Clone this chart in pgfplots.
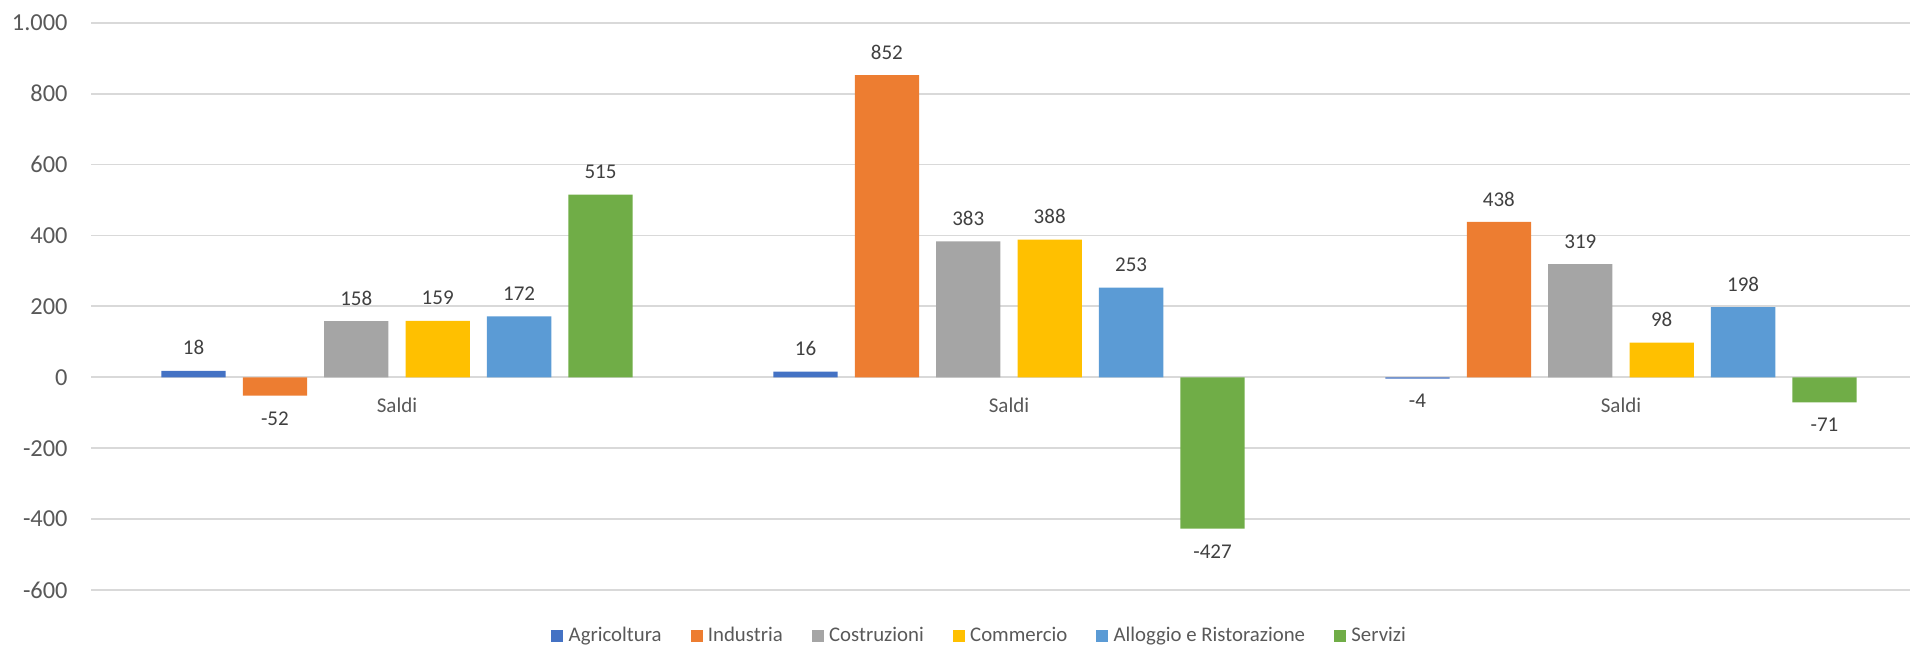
\documentclass[border=0pt]{standalone}
\usepackage{fontspec}
\setmainfont{Carlito}
\usepackage{pgfplots}
\usepackage{pgfplotstable}
\pgfplotsset{compat=1.18}

\definecolor{cAgr}{HTML}{4472C4}
\definecolor{cInd}{HTML}{ED7D31}
\definecolor{cCos}{HTML}{A5A5A5}
\definecolor{cCom}{HTML}{FFC000}
\definecolor{cAll}{HTML}{5B9BD5}
\definecolor{cSer}{HTML}{70AD47}
\definecolor{gridc}{HTML}{D9D9D9}
\definecolor{tickc}{HTML}{595959}
\definecolor{labc}{HTML}{404040}

% saldi per settore, tre gruppi
\pgfplotstableread{
g agr ind cos com all ser
1 18  -52 158 159 172 515
2 16  852 383 388 253 -427
3 -4  438 319 98  198 -71
}\saldi

\begin{document}
\begin{tikzpicture}
\begin{axis}[
  at={(0,0)}, anchor=south west,
  x=306pt, y=0.17728pt,
  xmin=0.5, xmax=3.4722, ymin=-600, ymax=1000,
  enlargelimits=false,
  ybar=8.55pt, bar width=32.15pt,
  axis x line=middle, axis y line=left,
  x axis line style={-, draw=gridc, line width=0.9pt},
  y axis line style={draw=none},
  major tick length=0pt,
  tick style={draw=none},
  xtick={1,2,3}, xticklabels={Saldi,Saldi,Saldi},
  ytick={-600,-400,...,1000},
  ymajorgrids, grid style={draw=gridc, line width=0.9pt},
  /pgf/number format/assume math mode=true,
  /pgf/number format/1000 sep={.},
  yticklabel style={font=\fontsize{12.2}{14}\selectfont, text=tickc, inner sep=0pt, xshift=-11.5pt},
  xticklabel style={font=\fontsize{10.5}{12}\selectfont, text=tickc, inner sep=0pt, anchor=center, yshift=-14pt},
  nodes near coords, nodes near coords align=vertical,
  every node near coord/.append style={font=\fontsize{10.5}{12}\selectfont, text=labc, inner xsep=0pt, inner ysep=7.7pt},
  legend columns=-1,
  legend style={draw=none, fill=none, at={(0.488,0)}, anchor=center, yshift=-23pt,
    font=\fontsize{10.4}{12}\selectfont, text=tickc, nodes={inner sep=0pt},
    /tikz/every even column/.append style={column sep=14.5pt}},
  legend image code/.code={\fill[#1, draw=none] (0pt,-3pt) rectangle (6pt,3pt); \path (8.65pt,0pt);},
]
\addplot[fill=cAgr, draw=none] table[x=g, y=agr]{\saldi};
\addplot[fill=cInd, draw=none] table[x=g, y=ind]{\saldi};
\addplot[fill=cCos, draw=none] table[x=g, y=cos]{\saldi};
\addplot[fill=cCom, draw=none] table[x=g, y=com]{\saldi};
\addplot[fill=cAll, draw=none] table[x=g, y=all]{\saldi};
\addplot[fill=cSer, draw=none] table[x=g, y=ser]{\saldi};
\legend{Agricoltura, Industria, Costruzioni, Commercio, Alloggio e Ristorazione, Servizi}
\end{axis}
\pgfresetboundingbox
\useasboundingbox (-45.5pt,-28pt) rectangle (909.5pt,295pt);
\end{tikzpicture}
\end{document}
